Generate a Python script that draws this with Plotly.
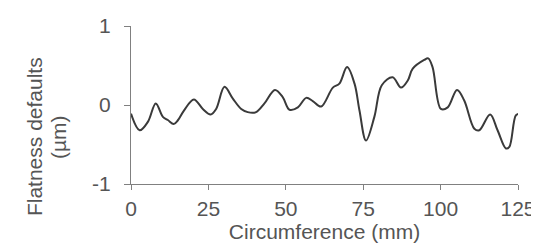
import plotly.graph_objects as go

circumference_mm = [0, 2.8, 5.5, 8, 10.3, 11.9, 13.8, 15.2, 17.1, 20.3, 23.2, 25.7, 27.5,
                    30.2, 32.9, 35.6, 37.7, 40.4, 43.1, 46.5, 49, 51.2, 53.9, 56.6, 58.7,
                    61.4, 65.2, 67.3, 69.8, 72.2, 73.8, 75.9, 78.6, 81, 84.5, 87.2, 89.4,
                    91, 94.7, 96, 97.4, 100.1, 102.3, 105.3, 107.6, 110.9, 112.5, 116,
                    118.4, 121.1, 122.2, 124.3, 125.4]
flatness_um = [-0.11, -0.32, -0.21, 0.02, -0.15, -0.19, -0.24, -0.19, -0.07, 0.07, -0.05,
               -0.12, -0.05, 0.23, 0.08, -0.05, -0.09, -0.09, 0.02, 0.19, 0.10, -0.06,
               -0.03, 0.09, 0.05, -0.02, 0.22, 0.27, 0.48, 0.27, -0.07, -0.45, -0.15,
               0.25, 0.35, 0.22, 0.31, 0.46, 0.57, 0.59, 0.48, -0.05, -0.03, 0.19, 0.06,
               -0.30, -0.32, -0.12, -0.32, -0.55, -0.53, -0.13, -0.11]
x_ticks = [0, 25, 50, 75, 100, 125]
y_ticks = [-1, 0, 1]
y_title_lines = ["Flatness defaults", "(µm)"]

font = dict(family="Liberation Sans, Arial, sans-serif", size=21, color="#555555")

fig = go.Figure()
fig.add_trace(go.Scatter(x=circumference_mm, y=flatness_um, mode="lines",
                         line=dict(color="#3a3a3a", width=2, shape="spline", smoothing=1.0),
                         showlegend=False, hoverinfo="skip", cliponaxis=False))

fig.update_layout(
    width=539, height=248,
    margin=dict(l=123, r=29, t=18, b=72),
    paper_bgcolor="white", plot_bgcolor="white",
    font=font,
    xaxis=dict(range=[0, 125], tickvals=x_ticks, ticktext=[str(v) for v in x_ticks],
               showgrid=False, zeroline=False, showline=True, linecolor="#808080",
               linewidth=1, ticks="outside", ticklen=5, tickcolor="#808080",
               tickfont=font, automargin=False, ticklabelstandoff=1,
               title=dict(text="Circumference (mm)", font=font, standoff=5)),
    yaxis=dict(range=[-1, 1], tickvals=y_ticks, ticktext=[str(v) for v in y_ticks],
               showgrid=False, zeroline=False, showline=True, linecolor="#808080",
               linewidth=1, ticks="outside", ticklen=6, tickcolor="#808080",
               tickfont=font, automargin=False, ticklabelstandoff=9),
    annotations=[
        dict(text=y_title_lines[0], textangle=-90, xref="paper", yref="paper",
             x=0, y=0.297, xanchor="center", yanchor="middle", xshift=-97,
             showarrow=False, font=font),
        dict(text=y_title_lines[1], textangle=-90, xref="paper", yref="paper",
             x=0, y=0.297, xanchor="center", yanchor="middle", xshift=-73,
             showarrow=False, font=font),
    ],
)

fig.write_html("out.html")
